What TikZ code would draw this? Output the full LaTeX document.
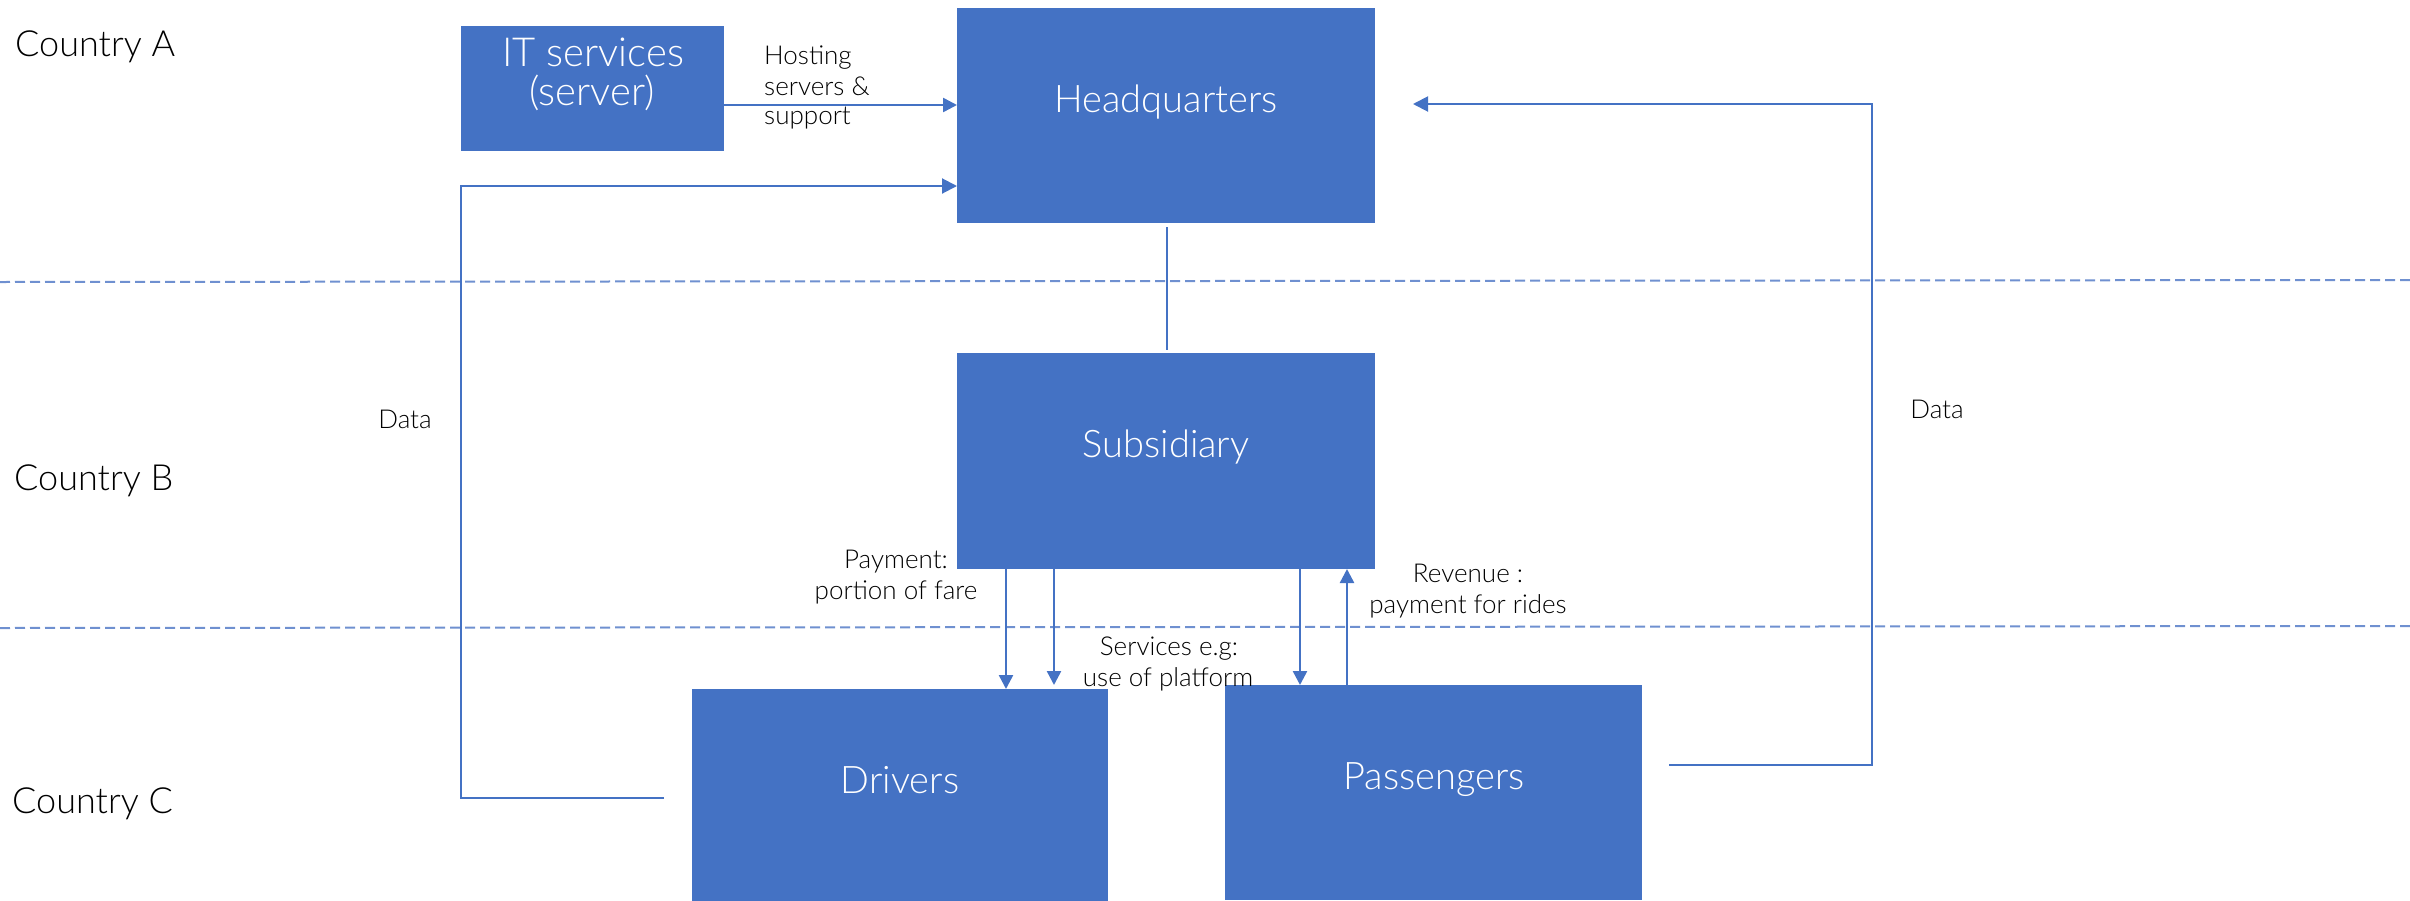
\documentclass[tikz,border=0pt]{standalone}
\usepackage{fontspec}
\IfFontExistsTF{Lato Light}{\setmainfont{Lato Light}}{\IfFontExistsTF{Lato-Light}{\setmainfont{Lato-Light}}{\setmainfont{Lato}}}
\usetikzlibrary{arrows.meta,calc}
\definecolor{ofblue}{HTML}{4472C4}
\definecolor{dashblue}{HTML}{6F90D0}
\definecolor{txt}{HTML}{000000}
\begin{document}
\begin{tikzpicture}[x=1pt,y=-1pt,
  box/.style={fill=ofblue, draw=none, inner sep=0pt, outer sep=0pt},
  boxlbl/.style={text=white, font=\fontsize{38}{40}\selectfont, anchor=base, inner sep=0pt},
  country/.style={text=txt, font=\fontsize{36}{40}\selectfont, anchor=base west, inner sep=0pt},
  small/.style={text=txt, font=\fontsize{26}{30}\selectfont, anchor=base, inner sep=0pt},
  arr/.style={ofblue, line width=2.5pt, -{Triangle[length=14pt,width=14pt]}},
  arrd/.style={ofblue, line width=2pt, -{Triangle[length=15pt,width=15pt]}},
  conn/.style={ofblue, line width=2pt},
  sep/.style={dashblue, line width=2pt, dash pattern=on 10pt off 5pt}]
\useasboundingbox (0,0) rectangle (2410,900);

% separators
\draw[sep] (0,282) -- (2410,280);
\draw[sep] (0,628) -- (2410,626);

% boxes
\node[box, minimum width=263pt, minimum height=125pt] (it) at (592.5,88.5) {};
\node[box, minimum width=418pt, minimum height=215pt] (hq) at (1166,115.5) {};
\node[box, minimum width=418pt, minimum height=216pt] (sub) at (1166,461) {};
\node[box, minimum width=416pt, minimum height=215pt] (drv) at (900,796.5) {};
\node[box, minimum width=417pt, minimum height=215pt] (pas) at (1433.5,792.5) {};

% box labels
\node[boxlbl, font=\fontsize{40}{40}\selectfont] (itL1) at (593,66) {IT services};
\node[boxlbl, font=\fontsize{40}{40}\selectfont] (itL2) at (592,105) {(server)};
\node[boxlbl] (hqL) at (1166,112) {Headquarters};
\node[boxlbl] (subL) at (1166,457) {Subsidiary};
\node[boxlbl] (drvL) at (900,793) {Drivers};
\node[boxlbl] (pasL) at (1434,789) {Passengers};

% country labels
\node[country] (cA) at (15,56) {Country A};
\node[country] (cB) at (14,490) {Country B};
\node[country] (cC) at (12,813) {Country C};

% small labels
\node[small, anchor=base west] (h1) at (764,64) {Hosting};
\node[small, anchor=base west] (h2) at (764,95) {servers \&};
\node[small, anchor=base west] (h3) at (764,124) {support};
\node[small] (p1) at (896,568) {Payment:};
\node[small] (p2) at (896,599) {portion of fare};
\node[small] (s1) at (1169,655) {Services e.g:};
\node[small] (s2) at (1168,686) {use of platform};
\node[small] (r1) at (1468,582) {Revenue :};
\node[small] (r2) at (1468,613) {payment for rides};
\node[small] (dataL) at (405,428) {Data};
\node[small] (dataR) at (1937,418) {Data};

% connectors
\draw[arr] (it.east |- 0,105) -- (hq.west |- 0,105);

\coordinate (dLs) at ($(drv.west |- 0,798)+(-28,0)$);
\draw[arrd] (dLs) -- (461,798) -- (461,186) -- (hq.west |- 0,186);

\draw[conn] ($(hq.south)+(1,4)$) -- ($(sub.north)+(1,-3)$);

\draw[arr] (sub.south -| 1006,0) -- (drv.north -| 1006,0);
\draw[arr] (sub.south -| 1054,0) -- ($(drv.north -| 1054,0)+(0,-4)$);
\draw[arr] (sub.south -| 1300,0) -- (pas.north -| 1300,0);
\draw[arr] (pas.north -| 1347,0) -- (sub.south -| 1347,0);

\coordinate (dRs) at ($(pas.east |- 0,765)+(27,0)$);
\coordinate (dRe) at ($(hq.east |- 0,104)+(38,0)$);
\draw[arrd] (dRs) -- (1872,765) -- (1872,104) -- (dRe);
\end{tikzpicture}
\end{document}
